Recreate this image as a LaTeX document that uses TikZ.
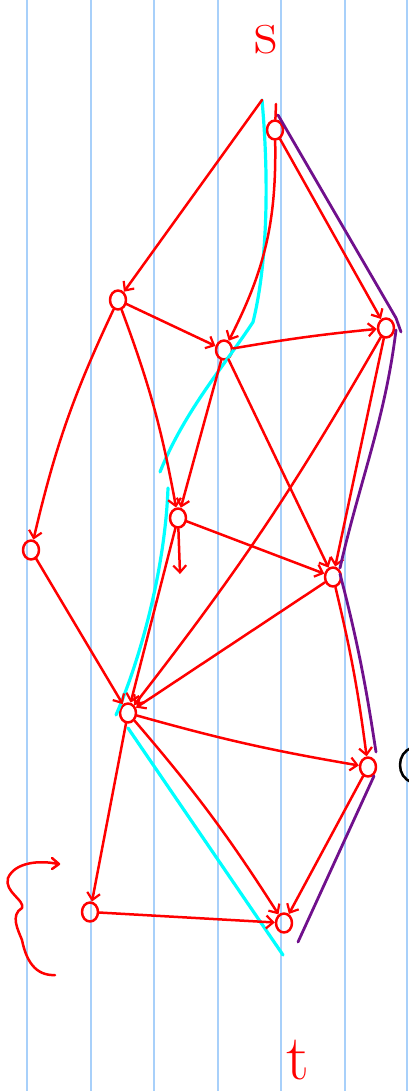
\documentclass[tikz,border=0pt]{standalone}
\usetikzlibrary{arrows.meta,shapes.geometric}
\definecolor{rulerblue}{RGB}{168,208,250}
\definecolor{pathpurple}{RGB}{112,16,140}
\definecolor{pathcyan}{RGB}{0,255,255}
\definecolor{inkred}{RGB}{255,0,0}
\begin{document}
\begin{tikzpicture}[x=1pt,y=-1pt,line cap=round,line join=round,
  rl/.style={draw=inkred,line width=2.5pt},
  arr/.style={rl,-{Straight Barb[length=7pt,width=13pt,line width=2.2pt]}},
  nd/.style={ellipse,draw=inkred,line width=2.5pt,minimum width=16pt,minimum height=19pt,inner sep=0pt},
  cy/.style={draw=pathcyan,line width=3.2pt},
  pu/.style={draw=pathpurple,line width=2.8pt},
  rule/.style={draw=rulerblue,line width=2pt},
  lbl/.style={text=inkred,inner sep=0pt}]
\useasboundingbox (0,0) rectangle (408,1091);
\fill[white] (0,0) rectangle (408,1091);
% ruled lines
\foreach \x in {27,90.5,154,217.5,281,344.5,407}
  \draw[rule] (\x,0) -- (\x,1091);

% nodes
\node[nd] (A) at (275,130) {};
\node[nd] (B) at (118,300) {};
\node[nd] (C) at (224,350) {};
\node[nd] (D) at (386,328) {};
\node[nd] (E) at (178,518) {};
\node[nd] (F) at (31,550) {};
\node[nd] (G) at (333,577) {};
\node[nd] (H) at (128,713) {};
\node[nd] (I) at (368,767) {};
\node[nd] (J) at (90,912) {};
\node[nd] (K) at (284,923) {};
\coordinate (a0) at (262,100);
\coordinate (a1) at (276,104);
\coordinate (e1) at (180,574);

% labels
\node[lbl,font=\fontsize{64}{64}\selectfont] (s) at (266,40) {s};
\node[lbl,font=\fontsize{64}{64}\selectfont] (t) at (298,1060) {t};

% partial bracket at the right edge
\draw[line width=2.5pt] (412,748) .. controls (396,752) and (396,778) .. (412,782);

% brace on the left
\draw[rl] (58,864) .. controls (40,860) and (15,862) .. (8,878)
  .. controls (4,892) and (25,900) .. (22,908)
  .. controls (10,915) and (18,930) .. (22,940)
  .. controls (26,960) and (35,976) .. (55,975);
\draw[rl] (52,858) -- (59,864) -- (52,869);

% cyan path
\draw[cy] (a0) .. controls (270,190) and (266,270) .. (253,322)
  .. controls (225,365) and (185,410) .. (160,472);
\draw[cy] (168,488) .. controls (165,570) and (140,660) .. (116,715);
\draw[cy] (128,728) -- (283,955);

% red edges
\draw[arr] (a0) -- (B);
\draw[rl] (a1) -- (A);
\draw[arr] (A) to[bend left=14] (C);
\draw[arr] (A) -- (D);
\draw[arr] (B) -- (C);
\draw[arr] (B) to[bend right=6] (F);
\draw[arr] (B) to[bend left=5] (E);
\draw[arr] (C) to[bend left=2] (D);
\draw[arr] (C) -- (E);
\draw[arr] (C) -- (G);
\draw[arr] (D) to[bend left=4] (H);
\draw[arr] (D) -- (G);
\draw[arr] (E) -- (G);
\draw[arr] (E) -- (H);
\draw[arr] (E) -- (e1);
\draw[arr] (F) -- (H);
\draw[arr] (G) -- (H);
\draw[arr] (G) to[bend left=3] (I);
\draw[arr] (H) to[bend right=3] (I);
\draw[arr] (H) -- (J);
\draw[arr] (H) to[bend left=4] (K);
\draw[arr] (J) -- (K);
\draw[arr] (I) -- (K);

% purple path
\draw[pu] (278,115) -- (396,318) -- (401,332);
\draw[pu] (396,330) .. controls (385,420) and (360,480) .. (340,568);
\draw[pu] (340,574) .. controls (360,650) and (368,700) .. (376,752);
\draw[pu] (374,776) -- (298,942);
\end{tikzpicture}
\end{document}
